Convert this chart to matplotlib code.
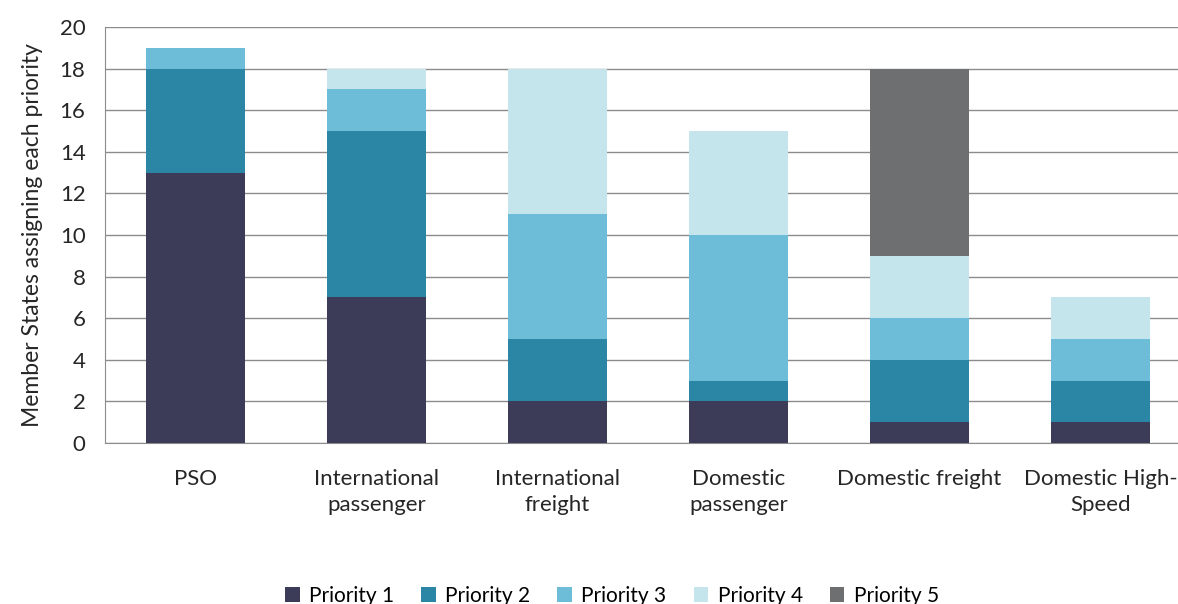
import matplotlib.pyplot as plt
import numpy as np

plt.rcParams['font.family'] = ['Lato', 'DejaVu Sans']

categories = ['PSO', 'International\npassenger', 'International\nfreight',
              'Domestic\npassenger', 'Domestic freight', 'Domestic High-\nSpeed']
series_names = ['Priority 1', 'Priority 2', 'Priority 3', 'Priority 4', 'Priority 5']
priority_1 = [13, 7, 2, 2, 1, 1]
priority_2 = [5, 8, 3, 1, 3, 2]
priority_3 = [1, 2, 6, 7, 2, 2]
priority_4 = [0, 1, 7, 5, 3, 2]
priority_5 = [0, 0, 0, 0, 9, 0]
colors = ['#3c3c58', '#2b86a6', '#6dbdd9', '#c4e5ec', '#6e6f71']

fig = plt.figure(figsize=(11.78, 6.04), dpi=100)
# plot area runs off the right edge like in the original
ax = fig.add_axes([105 / 1178, (604 - 443) / 604, 1086 / 1178, 416 / 604])

x = np.arange(len(categories))
bottom = np.zeros(len(categories))
for name, vals, c in zip(series_names,
                         [priority_1, priority_2, priority_3, priority_4, priority_5],
                         colors):
    ax.bar(x, vals, 0.55, bottom=bottom, color=c, label=name, zorder=3)
    bottom += np.array(vals)

ax.set_xlim(-0.5, 5.5)
ax.set_ylim(0, 20)
ax.set_yticks(range(0, 21, 2))
ax.yaxis.grid(True, color='#8c8c8c', linewidth=1, zorder=0)
ax.set_xticks(x)
ax.set_xticklabels(categories, fontsize=16, color='#262626', linespacing=1.35)
ax.tick_params(axis='x', length=0, pad=19)
ax.tick_params(axis='y', length=0, pad=14, labelsize=16, labelcolor='#262626')
for s in ['top', 'right']:
    ax.spines[s].set_visible(False)
ax.spines['left'].set_color('#8c8c8c')
ax.spines['bottom'].set_color('#8c8c8c')
ax.set_ylabel('Member States assigning each priority', fontsize=16.5, color='#262626',
              labelpad=12)

handles, labels = ax.get_legend_handles_labels()
fig.legend(handles, labels, loc='center', bbox_to_anchor=(612 / 1178, 1 - 596 / 604),
           ncol=5, frameon=False, fontsize=15, handlelength=0.7, handleheight=0.7,
           handletextpad=0.45, columnspacing=1.3)

fig.savefig('out.png', dpi=100)
